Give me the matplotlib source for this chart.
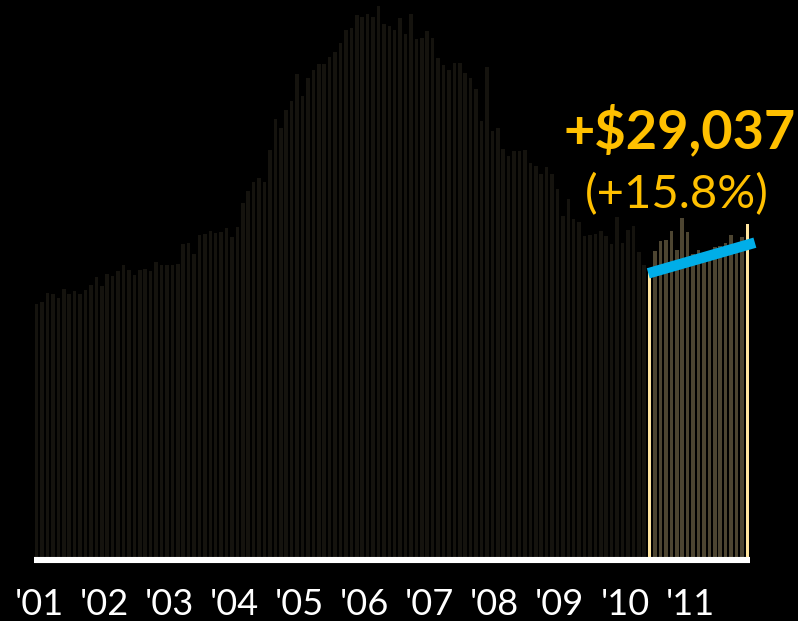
import numpy as np
import matplotlib.pyplot as plt

# monthly median price, $ thousands, Jan 2001 - Dec 2011
prices = [
    161.7, 163.0, 168.7, 168.3, 165.6, 171.3, 168.1, 170.0, 168.1, 170.7, 174.1, 178.8,  # 2001
    173.2, 180.9, 179.6, 182.8, 186.6, 183.5, 180.3, 183.5, 184.3, 182.8, 188.8, 186.6,  # 2002
    186.5, 186.6, 187.5, 199.9, 200.5, 193.7, 205.8, 206.5, 208.4, 207.1, 207.9, 210.1,  # 2003
    204.5, 211.1, 226.3, 233.9, 239.7, 242.3, 239.7, 260.3, 279.8, 274.0, 285.7, 291.5,  # 2004
    308.7, 294.7, 306.2, 311.3, 315.1, 315.3, 319.6, 323.0, 328.7, 336.9, 338.1, 346.6,  # 2005
    345.0, 347.1, 345.0, 352.2, 340.7, 339.2, 336.9, 344.7, 334.5, 346.9, 331.1, 331.6,  # 2006
    336.4, 331.6, 318.8, 314.3, 311.3, 315.8, 315.8, 309.2, 306.0, 299.1, 278.7, 313.2,  # 2007
    272.3, 274.0, 260.6, 256.3, 259.5, 259.5, 260.3, 251.7, 249.9, 244.8, 249.0, 244.8,  # 2008
    235.2, 218.2, 228.6, 215.9, 213.8, 205.2, 206.1, 206.3, 208.4, 205.2, 200.1, 217.3,  # 2009
    200.7, 208.7, 211.4, 194.8, 186.6, 183.8, 195.6, 202.0, 202.6, 208.4, 196.2, 216.7,  # 2010
    207.7, 193.7, 196.2, 194.3, 195.6, 198.2, 198.8, 200.7, 205.8, 200.7, 204.5, 212.8,  # 2011
]
years = ["'01", "'02", "'03", "'04", "'05", "'06", "'07", "'08", "'09", "'10", "'11"]
hl_start = 113          # Jun 2010, first bar of the comparison
trend = [181.3, 200.9]  # blue trend line, start / end
change_label = "+$29,037"
pct_label = "(+15.8%)"

n = len(prices)
x = np.arange(n)

colors = []
for i in range(n):
    if i == hl_start or i == n - 1:
        colors.append('#ffe59e')
    elif i > hl_start:
        colors.append('#4d4531')
    else:
        colors.append('#15130e')

fig = plt.figure(figsize=(7.98, 6.21), dpi=100, facecolor='black')
ax = fig.add_axes([34 / 798, 64 / 621, 716 / 798, 557 / 621])
ax.set_facecolor('black')

ax.bar(x, prices, width=0.65, color=colors, linewidth=0)
ax.set_xlim(-0.5, n - 0.5)
ax.set_ylim(0, 356)
ax.axis('off')

# white base line
ax.plot([-0.5, n - 0.5], [-2.0, -2.0], color='white', lw=4.4,
        solid_capstyle='butt', clip_on=False)

# trend line over the highlighted months
ax.plot([hl_start - 0.25, n + 0.4], trend, color='#00aee8', lw=7.6,
        solid_capstyle='butt', clip_on=False, zorder=3)

for k, lab in enumerate(years):
    ax.text(12 * k - 4.1, -37.1, lab, color='white', fontsize=26,
            family='Lato', ha='left', va='baseline', clip_on=False)

fig.text(680 / 798, 1 - 148 / 621, change_label, color='#ffc000', fontsize=39,
         family='Lato', weight='bold', ha='center', va='baseline')
fig.text(677 / 798, 1 - 208 / 621, pct_label, color='#ffc000', fontsize=34,
         family='Lato', ha='center', va='baseline')

fig.savefig('out.png', dpi=100, facecolor='black')
